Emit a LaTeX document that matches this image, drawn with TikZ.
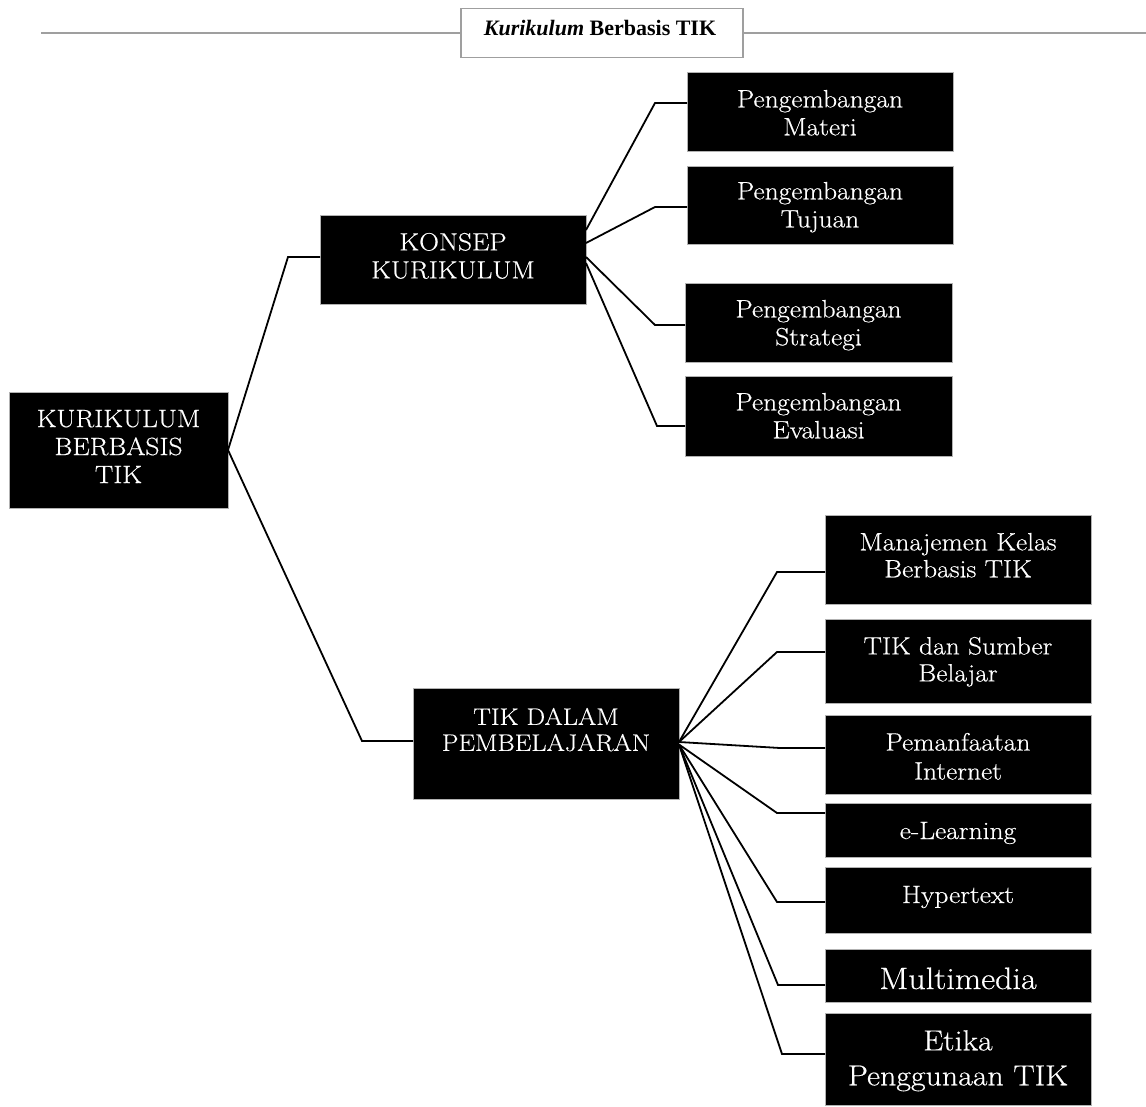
\documentclass[tikz,border=0pt]{standalone}
\usepackage{fontspec}
\setmainfont[FakeStretch=1.1,FakeBold=0.5]{Latin Modern Roman}
\newfontfamily\hdrfont{Liberation Serif}
\begin{document}
\begin{tikzpicture}[x=1pt,y=-1pt,
  bx/.style={rectangle,fill=black,draw=gray!60,line width=1pt,inner sep=0pt,outer sep=0pt},
  tx/.style={text=white,align=center,inner sep=0pt,font=\fontsize{25}{28}\selectfont},
  conn/.style={line width=1.8pt,black,line join=miter},
  hline/.style={line width=2pt,gray!75}]
\useasboundingbox[fill=white] (0,0) rectangle (1146,1106);

% header
\node[draw=gray!75,line width=1.5pt,fill=white,minimum width=282pt,minimum height=49pt,inner sep=0pt,outer sep=0pt] (hdr) at (602,33) {};
\node[anchor=base,inner sep=0pt,font=\fontsize{22}{24}\selectfont\hdrfont] (hdrT) at (600,35) {{\bfseries\itshape Kurikulum} \textbf{Berbasis TIK}};
\coordinate (hl) at (41,33);
\coordinate (hr) at (1146,33);
\draw[hline] (hl) -- (hdr.west);
\draw[hline] (hdr.east) -- (hr);

% boxes
\node[bx,minimum width=219pt,minimum height=116pt] (root) at (118.5,450) {};
\node[bx,minimum width=266pt,minimum height=89pt] (konsep) at (453,259.5) {};
\node[bx,minimum width=266pt,minimum height=79pt] (materi) at (820,111.5) {};
\node[bx,minimum width=266pt,minimum height=78pt] (tujuan) at (820,205) {};
\node[bx,minimum width=267pt,minimum height=79pt] (strategi) at (818.5,322.5) {};
\node[bx,minimum width=267pt,minimum height=80pt] (evaluasi) at (818.5,416) {};
\node[bx,minimum width=266pt,minimum height=111pt] (tik) at (546,743.5) {};
\node[bx,minimum width=266pt,minimum height=89pt] (manaj) at (958,559.5) {};
\node[bx,minimum width=266pt,minimum height=84pt] (sumber) at (958,661) {};
\node[bx,minimum width=266pt,minimum height=79pt] (pemanf) at (958,754.5) {};
\node[bx,minimum width=266pt,minimum height=54pt] (elearn) at (958,830) {};
\node[bx,minimum width=266pt,minimum height=66pt] (hyper) at (958,900) {};
\node[bx,minimum width=266pt,minimum height=53pt] (multi) at (958,975.5) {};
\node[bx,minimum width=266pt,minimum height=92pt] (etika) at (958,1059) {};

% texts
\node[tx,anchor=north] (rootT) at (118.5,409.75) {KURIKULUM\\BERBASIS\\TIK};
\node[tx,anchor=north] (konsepT) at (453,232.75) {KONSEP\\KURIKULUM};
\node[tx,anchor=north] (materiT) at (820,89.75) {Pengembangan\\Materi};
\node[tx,anchor=north] (tujuanT) at (820,181.75) {Pengembangan\\Tujuan};
\node[tx,anchor=north] (strategiT) at (818.5,299.75) {Pengembangan\\Strategi};
\node[tx,anchor=north] (evaluasiT) at (818.5,392.75) {Pengembangan\\Evaluasi};
\node[tx,anchor=north,font=\fontsize{24}{26}\selectfont] (tikT) at (546,707.75) {TIK DALAM\\PEMBELAJARAN};
\node[tx,anchor=north,font=\fontsize{25}{27}\selectfont] (manajT) at (958,532.75) {Manajemen Kelas\\Berbasis TIK};
\node[tx,anchor=north,font=\fontsize{25}{27}\selectfont] (sumberT) at (958,636.75) {TIK dan Sumber\\Belajar};
\node[tx,anchor=north,font=\fontsize{25}{29}\selectfont] (pemanfT) at (958,732.75) {Pemanfaatan\\Internet};
\node[tx,anchor=base] (elearnT) at (958,839) {e-Learning};
\node[tx,anchor=base] (hyperT) at (958,903) {Hypertext};
\node[tx,anchor=base,font=\fontsize{31}{34}\selectfont] (multiT) at (958,989) {Multimedia};
\node[tx,anchor=north,font=\fontsize{29}{35}\selectfont] (etikaT) at (958,1030) {Etika\\Penggunaan TIK};

% connectors from root
\draw[conn] (root.east) -- ([xshift=-32pt,yshift=2.5pt]konsep.west) -- ([yshift=2.5pt]konsep.west);
\draw[conn] (root.east) -- ([xshift=-51pt,yshift=2.5pt]tik.west) -- ([yshift=2.5pt]tik.west);

% connectors from KONSEP
\draw[conn] ([yshift=29.5pt]konsep.east) -- ([xshift=-32pt,yshift=8.5pt]materi.west) -- ([yshift=8.5pt]materi.west);
\draw[conn] ([yshift=16.5pt]konsep.east) -- ([xshift=-32pt,yshift=-2pt]tujuan.west) -- ([yshift=-2pt]tujuan.west);
\draw[conn] ([yshift=2.5pt]konsep.east) -- ([xshift=-30pt,yshift=-2.5pt]strategi.west) -- ([yshift=-2.5pt]strategi.west);
\draw[conn] ([yshift=-3.5pt]konsep.east) -- ([xshift=-28pt,yshift=-10pt]evaluasi.west) -- ([yshift=-10pt]evaluasi.west);

% connectors from TIK DALAM PEMBELAJARAN
\draw[conn] ([yshift=1.5pt]tik.east) -- ([xshift=-48pt,yshift=-12.5pt]manaj.west) -- ([yshift=-12.5pt]manaj.west);
\draw[conn] ([yshift=1.5pt]tik.east) -- ([xshift=-48pt,yshift=9pt]sumber.west) -- ([yshift=9pt]sumber.west);
\draw[conn] ([yshift=1.5pt]tik.east) -- ([xshift=-45pt,yshift=6.5pt]pemanf.west) -- ([yshift=6.5pt]pemanf.west);
\draw[conn] ([yshift=-1pt]tik.east) -- ([xshift=-48pt,yshift=17pt]elearn.west) -- ([yshift=17pt]elearn.west);
\draw[conn] ([yshift=-1pt]tik.east) -- ([xshift=-48pt,yshift=-2pt]hyper.west) -- ([yshift=-2pt]hyper.west);
\draw[conn] ([yshift=-1pt]tik.east) -- ([xshift=-47pt,yshift=-9.5pt]multi.west) -- ([yshift=-9.5pt]multi.west);
\draw[conn] ([yshift=-1pt]tik.east) -- ([xshift=-43pt,yshift=5pt]etika.west) -- ([yshift=5pt]etika.west);
\end{tikzpicture}
\end{document}
